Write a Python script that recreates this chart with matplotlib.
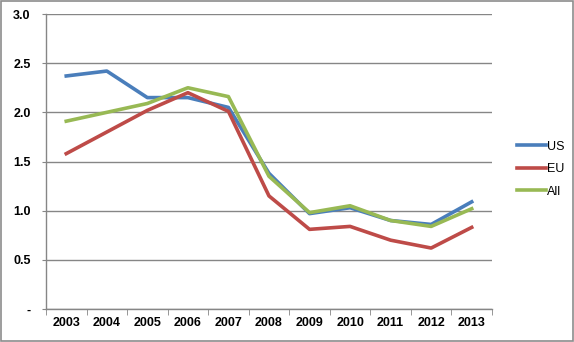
import matplotlib
matplotlib.use('Agg')
from matplotlib import pyplot as plt
from matplotlib.ticker import FixedLocator
import numpy as np

years = ['2003', '2004', '2005', '2006', '2007', '2008', '2009', '2010', '2011', '2012', '2013']
us = [2.37, 2.42, 2.15, 2.15, 2.05, 1.38, 0.97, 1.03, 0.90, 0.86, 1.09]
eu = [1.58, 1.80, 2.02, 2.20, 2.01, 1.15, 0.81, 0.84, 0.70, 0.62, 0.83]
all_ = [1.91, 2.00, 2.09, 2.25, 2.16, 1.35, 0.98, 1.05, 0.90, 0.84, 1.02]
y_ticks = [0, 0.5, 1.0, 1.5, 2.0, 2.5, 3.0]
y_labels = ['-', '0.5', '1.0', '1.5', '2.0', '2.5', '3.0']

plt.rcParams['font.family'] = ['Liberation Sans', 'DejaVu Sans']

fig = plt.figure(figsize=(5.74, 3.42), dpi=100)
fig.patch.set_facecolor('white')
# outer border like the excel chart area
fig.patches.append(plt.Rectangle((0.001, 0.002), 0.997, 0.995, transform=fig.transFigure,
                                 fill=False, edgecolor='#8c8c8c', lw=1.2))

ax = fig.add_axes([0.0801, 0.0965, 0.777, 0.8625])
x = np.arange(len(years))
ax.plot(x, us, color='#4A7EBB', lw=2.6, label='US', solid_joinstyle='round')
ax.plot(x, eu, color='#BE4B48', lw=2.6, label='EU', solid_joinstyle='round')
ax.plot(x, all_, color='#98B954', lw=2.6, label='All', solid_joinstyle='round')

ax.set_xlim(-0.5, len(years) - 0.5)
ax.set_ylim(0, 3.0)
ax.set_yticks(y_ticks)
ax.set_yticklabels(y_labels, fontsize=9, fontweight='bold')
ax.set_xticks(x)
ax.set_xticklabels(years, fontsize=9, fontweight='bold')
ax.tick_params(axis='x', which='major', length=0, pad=6)
ax.xaxis.set_minor_locator(FixedLocator(np.arange(-0.5, len(years), 1.0)))
ax.tick_params(axis='x', which='minor', length=4, color='#868686', direction='out')
ax.tick_params(axis='y', length=3, color='#868686', pad=8)

ax.grid(axis='y', color='#868686', lw=1)
ax.set_axisbelow(True)
for s in ['top', 'right']:
    ax.spines[s].set_visible(False)
for s in ['left', 'bottom']:
    ax.spines[s].set_color('#868686')
    ax.spines[s].set_linewidth(1)

leg = fig.legend(loc='center left', bbox_to_anchor=(0.8815, 0.505), frameon=False,
                 fontsize=9, handlelength=2.3, handletextpad=0.05, labelspacing=0.84)

fig.savefig('out.png', dpi=100)
